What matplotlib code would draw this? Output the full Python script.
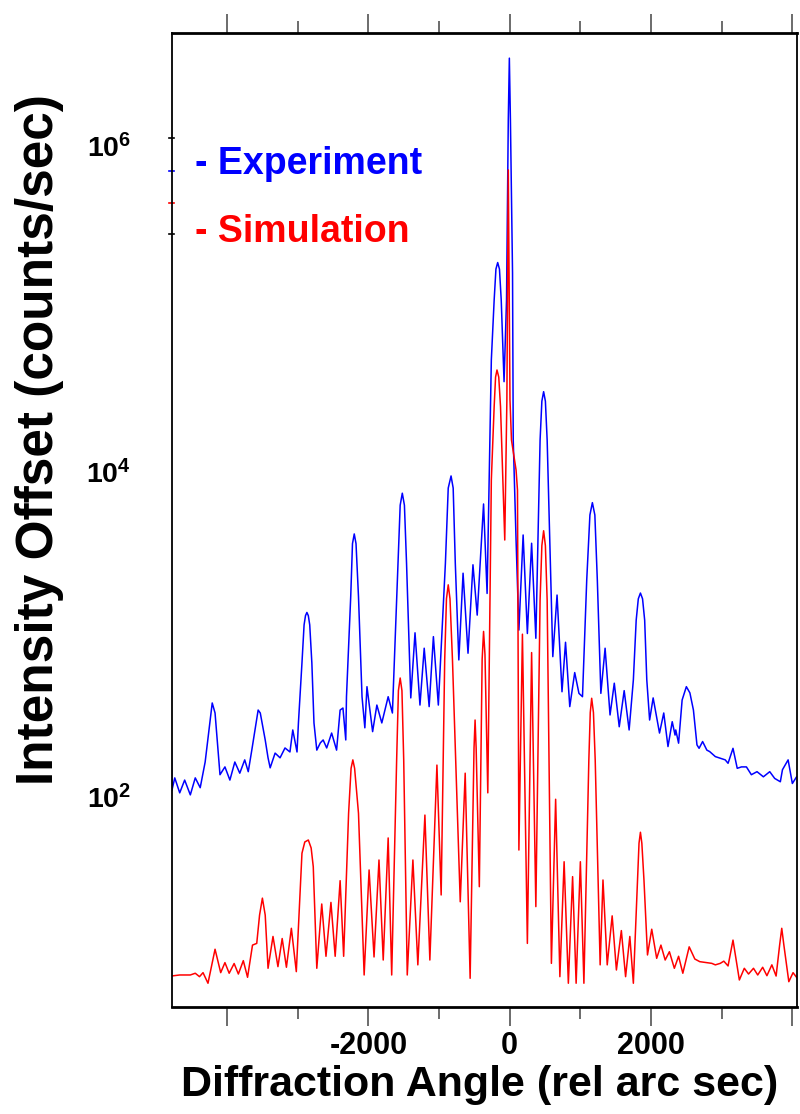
import numpy as np
import matplotlib
matplotlib.use("Agg")
import matplotlib.pyplot as plt
from matplotlib.ticker import FixedLocator, NullLocator

# measured rocking curve (angle in arc sec, intensity in counts/sec)
exp_angle = [-4790, -4780, -4740, -4670, -4600, -4520, -4450, -4380, -4310, -4210,
             -4170, -4100, -4030, -3960, -3890, -3820, -3750, -3700, -3650, -3560,
             -3530, -3460, -3420, -3390, -3320, -3250, -3180, -3110, -3070, -3010,
             -2990, -2940, -2910, -2890, -2870, -2850, -2830, -2800, -2770, -2730,
             -2680, -2640, -2590, -2520, -2450, -2400, -2360, -2320, -2310, -2250,
             -2225, -2200, -2175, -2140, -2090, -2050, -2020, -1940, -1880, -1810,
             -1720, -1660, -1580, -1550, -1520, -1490, -1460, -1400, -1340, -1270,
             -1210, -1140, -1080, -1010, -910, -870, -830, -800, -770, -720,
             -660, -590, -520, -460, -370, -320, -280, -260, -220, -195,
             -170, -145, -120, -80, -45, -20, -5, 10, 40, 50,
             90, 130, 190, 250, 310, 370, 430, 455, 480, 505,
             530, 610, 670, 740, 790, 850, 920, 980, 1030, 1090,
             1135, 1170, 1205, 1240, 1290, 1350, 1420, 1480, 1550, 1620,
             1690, 1750, 1790, 1820, 1850, 1880, 1910, 1940, 1980, 2030,
             2120, 2180, 2240, 2300, 2340, 2350, 2390, 2440, 2500, 2550,
             2600, 2650, 2680, 2730, 2790, 2830, 2910, 2980, 3050, 3090,
             3160, 3220, 3280, 3350, 3420, 3500, 3590, 3680, 3750, 3830,
             3860, 3940, 4000, 4060]
exp_counts = [230, 110, 131, 106, 127, 103, 131, 114, 164, 378,
              328, 137, 153, 127, 164, 140, 169, 143, 194, 342,
              328, 224, 174, 151, 186, 174, 200, 189, 258, 189,
              285, 666, 1140, 1300, 1360, 1300, 1140, 666, 285, 194,
              215, 224, 200, 247, 194, 342, 352, 224, 413, 1700,
              3600, 4130, 3600, 1700, 413, 266, 476, 252, 367, 285,
              413, 328, 2730, 6200, 7350, 6200, 2730, 406, 1020, 367,
              820, 359, 966, 367, 2730, 7900, 9380, 7900, 2730, 695,
              2370, 764, 2670, 1310, 6310, 1780, 15600, 48400, 113000, 175000,
              192000, 175000, 113000, 35600, 113000, 1450000, 3460000, 1450000, 166000, 15600,
              3790, 1060, 4070, 1010, 3620, 944, 15600, 27000, 30900, 27000,
              15600, 728, 1740, 443, 892, 359, 581, 433, 413, 2150,
              5400, 6430, 5400, 2150, 433, 820, 319, 500, 270, 450,
              258, 524, 1220, 1650, 1790, 1650, 1220, 524, 297, 406,
              247, 328, 204, 290, 240, 258, 214, 394, 476, 436,
              342, 209, 199, 219, 194, 190, 177, 173, 169, 161,
              199, 150, 153, 153, 137, 143, 133, 143, 130, 124,
              147, 169, 121, 133]

# simulated curve, offset downwards
sim_angle = [-4790, -4670, -4520, -4450, -4390, -4340, -4270, -4170, -4090, -4030,
             -3970, -3900, -3840, -3770, -3710, -3640, -3580, -3540, -3500, -3460,
             -3420, -3350, -3280, -3220, -3160, -3090, -3020, -2940, -2900, -2850,
             -2810, -2780, -2730, -2660, -2600, -2530, -2470, -2400, -2350, -2280,
             -2245, -2220, -2195, -2140, -2060, -1990, -1920, -1850, -1790, -1720,
             -1670, -1600, -1575, -1550, -1525, -1500, -1450, -1370, -1300, -1200,
             -1130, -1030, -970, -920, -895, -870, -845, -810, -700, -630,
             -560, -505, -490, -475, -430, -390, -370, -350, -310, -260,
             -220, -200, -180, -155, -130, -70, -40, -20, 4, 25,
             90, 110, 130, 180, 250, 310, 370, 430, 455, 480,
             505, 530, 590, 650, 710, 770, 830, 890, 940, 1000,
             1050, 1120, 1140, 1160, 1185, 1210, 1280, 1320, 1380, 1450,
             1510, 1580, 1640, 1700, 1750, 1810, 1830, 1850, 1870, 1900,
             1950, 2010, 2080, 2140, 2200, 2260, 2330, 2390, 2450, 2540,
             2620, 2690, 2790, 2860, 2910, 2980, 3030, 3090, 3160, 3250,
             3320, 3380, 3450, 3510, 3580, 3640, 3710, 3770, 3820, 3850,
             3880, 3950, 4010, 4080]
sim_counts = [7.94, 8.06, 8.06, 8.26, 7.87, 8.33, 7.17, 11.6, 8.33, 9.6,
              8.26, 9.48, 8.17, 9.87, 7.8, 12.3, 12.6, 18.8, 23.9, 18.8,
              8.86, 13.9, 9.07, 13.5, 8.99, 15.6, 8.45, 45.1, 52.9, 54.4,
              48.6, 37.3, 8.86, 22.0, 10.5, 22.5, 10.5, 30.6, 10.5, 79.4,
              150, 169, 150, 79.4, 8.06, 35.6, 10.4, 41.0, 9.96, 56,
              8.06, 169, 450, 538, 450, 169, 8.06, 41, 9.3, 77.4,
              9.96, 157, 25, 695, 1650, 2010, 1650, 695, 22.7, 140,
              7.69, 200, 297, 200, 28.1, 700, 1040, 750, 106, 8870,
              25000, 38000, 42000, 38000, 25000, 3790, 27500, 712000, 27500, 15600,
              10200, 7690, 47.2, 1000, 12.6, 771, 21.2, 1620, 3500, 4320,
              3500, 1620, 9.5, 96.8, 7.87, 40, 7.17, 32.4, 7.17, 40,
              7.17, 169, 330, 404, 330, 169, 9.3, 30.9, 9.3, 18.6,
              8.65, 15.1, 7.87, 13.9, 7.17, 30.9, 52, 60.7, 52, 30.9,
              10.7, 15.4, 10.2, 12.3, 9.96, 11.2, 8.86, 10.5, 8.26, 12.0,
              10.1, 9.73, 9.6, 9.5, 9.3, 9.5, 9.8, 9.16, 13.2, 7.51,
              8.86, 8.17, 8.86, 8.06, 8.99, 7.98, 9.3, 7.94, 12.3, 15.6,
              12.3, 7.33, 8.33, 7.59]

x_major = [-4000, -2000, 0, 2000, 4000]
x_major_labels = ['', '-2000', '0', '2000', '']
x_minor = [-3000, -1000, 1000, 3000]
y_ticks = [1e2, 1e4, 1e6]
y_tick_labels = [r'$\mathbf{10^{2}}$', r'$\mathbf{10^{4}}$', r'$\mathbf{10^{6}}$']

plt.rcParams['font.family'] = ['Liberation Sans', 'DejaVu Sans']
plt.rcParams['font.weight'] = 'bold'
plt.rcParams['mathtext.fontset'] = 'custom'
plt.rcParams['mathtext.rm'] = 'Liberation Sans:bold'
plt.rcParams['mathtext.bf'] = 'Liberation Sans:bold'
plt.rcParams['mathtext.it'] = 'Liberation Sans:bold'


def main():
    fig = plt.figure(figsize=(8, 11.14), dpi=100)
    ax = fig.add_axes([0.2144, 0.0960, 0.78125, 0.8744])

    ax.plot(exp_angle, exp_counts, color='#0000ff', lw=1.1)
    ax.plot(sim_angle, sim_counts, color='#ff0000', lw=1.1)

    ax.set_yscale('log')
    ax.set_xlim(-4786, 4059)
    ax.set_ylim(5.12, 4.94e6)

    ax.set_xticks(x_major)
    ax.set_xticklabels(x_major_labels)
    ax.xaxis.set_minor_locator(FixedLocator(x_minor))
    ax.tick_params(axis='x', which='major', direction='out', length=13.7, width=1.1,
                   top=True, bottom=True, color='#444444', labelsize=22, pad=3.5)
    ax.tick_params(axis='x', which='minor', direction='out', length=8.6, width=1.1,
                   top=True, bottom=True, color='#444444')

    ax.set_yticks(y_ticks)
    ax.set_yticklabels(y_tick_labels)
    ax.yaxis.set_minor_locator(NullLocator())
    ax.tick_params(axis='y', length=0, pad=29, labelsize=20.5)

    for side in ['top', 'bottom']:
        ax.spines[side].set_linewidth(2.0)
    for side in ['left', 'right']:
        ax.spines[side].set_linewidth(1.3)

    # little key marks on the left axis
    for yy, c in [(0.8922, 'black'), (0.8586, '#0000ff'), (0.8258, '#ff0000'), (0.7936, 'black')]:
        ax.plot([-0.0035, 0.004], [yy, yy], color=c, lw=1.2, transform=ax.transAxes, clip_on=False)

    fig.text(195 / 800, 1 - 174 / 1114, '- Experiment', color='#0000ff', fontsize=27,
             fontweight='bold', ha='left', va='baseline')
    fig.text(195 / 800, 1 - 241.5 / 1114, '- Simulation', color='#ff0000', fontsize=27,
             fontweight='bold', ha='left', va='baseline')

    fig.text(479.5 / 800, 1 - 1085 / 1114, 'Diffraction Angle (rel arc sec)', fontsize=31,
             fontweight='bold', ha='center', va='center')
    fig.text(40 / 800, 1 - 440 / 1114, 'Intensity Offset (counts/sec)', fontsize=37,
             fontweight='bold', ha='center', va='center', rotation=90)

    fig.savefig('out.png', dpi=100)


if __name__ == "__main__":
    main()
